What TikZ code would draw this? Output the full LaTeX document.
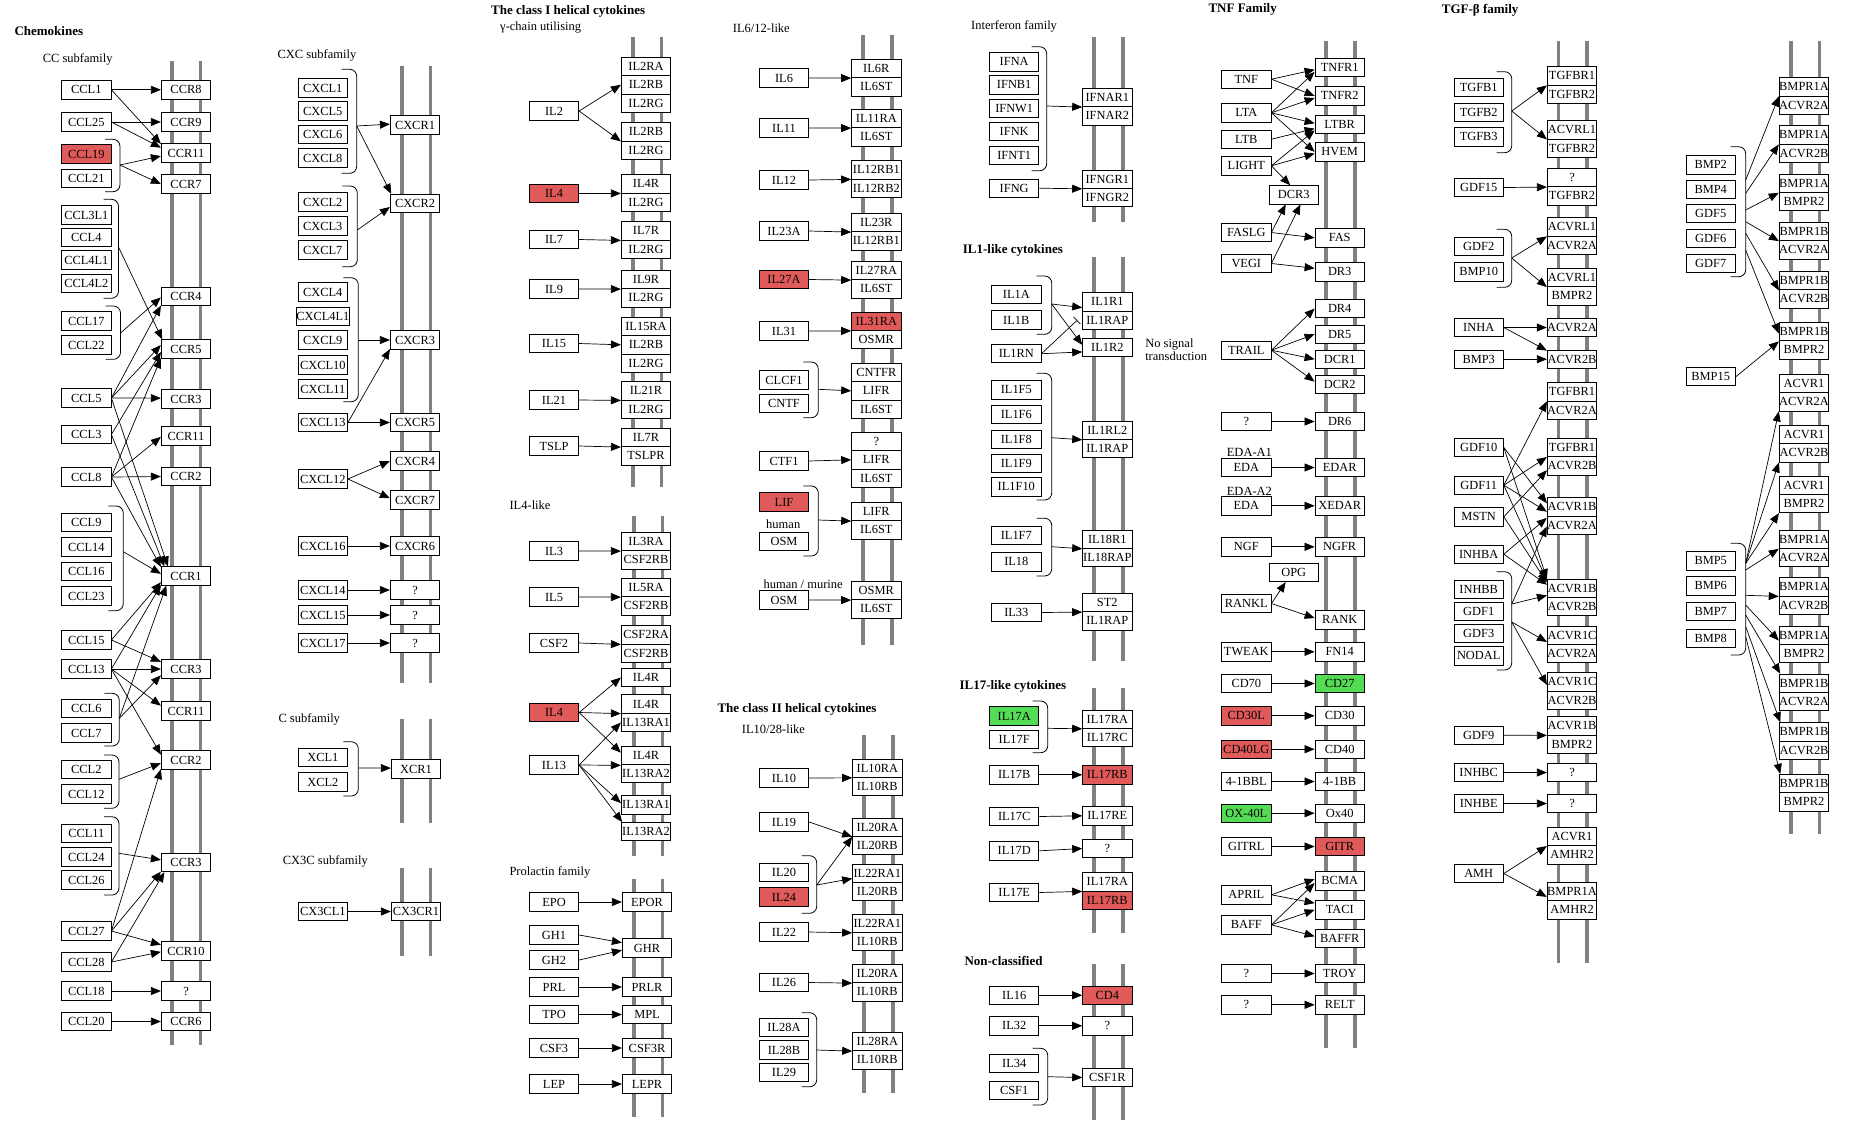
\documentclass[tikz,border=0pt]{standalone}
\usepackage{fontspec}
\setmainfont{Liberation Serif}
\usetikzlibrary{arrows.meta}
\definecolor{keggred}{RGB}{225,90,90}
\definecolor{kegggreen}{RGB}{85,220,85}
\definecolor{keggmem}{RGB}{128,128,128}

% membrane: two grey lines round a receptor column
\newcommand{\membrane}[3]{%
    \draw[memline] (#1-14.4,#2) -- (#1-14.4,#3);
    \draw[memline] (#1+14.4,#2) -- (#1+14.4,#3);
}
% bracket on the right of a group of ligands
\newcommand{\bkt}[3]{%
    \draw[bktline] (#1-15,#2) -- (#1,#2) -- (#1,#3) -- (#1-15,#3);
}

\begin{document}
\begin{tikzpicture}[
    x=1pt, y=-1pt,
    every node/.style={font=\fontsize{12.5}{13}\selectfont},
    box/.style={draw=black, line width=0.9pt, fill=white, minimum width=49.3pt,
        minimum height=18.3pt, inner sep=0pt, font=\fontsize{12.4}{12}\selectfont},
    hitred/.style={fill=keggred},
    hitgreen/.style={fill=kegggreen},
    memline/.style={draw=keggmem, line width=3.8pt},
    bktline/.style={line width=0.8pt, rounded corners=7pt},
    sig/.style={-{Triangle[length=10pt,width=8pt]}, line width=0.7pt},
    inh/.style={-{Bar[width=10pt]}, line width=0.7pt},
    grp/.style={anchor=west, font=\fontsize{13}{13}\selectfont\bfseries},
    sub/.style={anchor=west}
]
    % page is 1851 x 1120, y grows downwards
    \fill[white] (0,0) rectangle (1851,1120);
    \useasboundingbox (0,0) rectangle (1851,1120);

    % ---------------- Chemokines: CC subfamily
    \node[grp] (tChemo) at (11,31) {Chemokines};
    \node[sub] (tCC) at (39.3,59) {CC subfamily};
    \membrane{186}{61}{1045}
    \def\xlig{86.3}
    \def\xrec{186}
    \foreach \n/\y in {CCL1/89.8, CCL25/122, CCL21/178.5, CCL3L1/215, CCL4/237.5,
        CCL4L1/260, CCL4L2/283.5, CCL17/321, CCL22/345, CCL5/398, CCL3/434.5,
        CCL8/477, CCL9/522.5, CCL14/547, CCL16/571.5, CCL23/596, CCL15/640,
        CCL13/669, CCL6/708.5, CCL7/733, CCL2/769.5, CCL12/794, CCL11/833.5,
        CCL24/857, CCL26/880, CCL27/931, CCL28/962, CCL18/991, CCL20/1021.5}{
        \node[box] (\n) at (\xlig,\y) {\n};
    }
    \node[box,hitred] (CCL19) at (\xlig,154) {CCL19};
    \foreach \n/\y/\txt in {CCR8/89.8/CCR8, CCR9/122/CCR9, CCR11a/153/CCR11,
        CCR7/184/CCR7, CCR4/296.5/CCR4, CCR5/349/CCR5, CCR3a/399/CCR3,
        CCR11b/436/CCR11, CCR2a/476.5/CCR2, CCR1/576/CCR1, CCR3b/669/CCR3,
        CCR11c/711/CCR11, CCR2b/760/CCR2, CCR3c/862.5/CCR3, CCR10/951/CCR10,
        CCRx/991/?, CCR6/1021.5/CCR6}{
        \node[box] (\n) at (\xrec,\y) {\txt};
    }
    \bkt{120}{139.3}{191.7}
    \bkt{118.5}{199.3}{298.3}
    \bkt{120.5}{306}{359.3}
    \bkt{123.3}{506}{610.7}
    \bkt{119.3}{693.3}{746}
    \bkt{119}{755}{808.3}
    \bkt{119}{816.7}{895}
    \coordinate (bCCL19) at (120,165);
    \coordinate (bCCL3L1) at (118.5,247);
    \coordinate (bCCL17) at (120.5,333);
    \coordinate (bCCL9) at (123.3,551.7);
    \coordinate (bCCL6) at (119.3,718.3);
    \coordinate (bCCL2) at (119,779.3);
    \coordinate (bCCL11) at (119,853.3);
    \foreach \a/\b in {CCL1.east/CCR8.180, CCL1.east/CCR11a.160, CCL25.east/CCR9.180,
        CCL25.east/CCR11a.168, bCCL19/CCR11a.187, bCCL19/CCR7.180,
        bCCL3L1/CCR5.158, bCCL17/CCR4.182, CCL5.east/CCR4.200, CCL5.east/CCR5.171,
        CCL3.east/CCR5.187, CCL8.east/CCR5.200, CCL5.east/CCR3a.178,
        CCL5.east/CCR1.152, CCL3.east/CCR1.156, CCL8.east/CCR1.160,
        CCL8.east/CCR11b.182, CCL8.east/CCR2a.180, bCCL9/CCR1.175,
        CCL15.east/CCR1.194, CCL13.east/CCR1.200, bCCL6/CCR1.206,
        CCL15.east/CCR3b.164, CCL13.east/CCR3b.180, bCCL6/CCR3b.194,
        CCL13.east/CCR11c.168, CCL13.east/CCR2b.168, bCCL2/CCR2b.187,
        CCL27.east/CCR2b.200, bCCL11/CCR3c.174, CCL27.east/CCR3c.200,
        CCL28.east/CCR3c.204, CCL27.east/CCR10.166, CCL28.east/CCR10.182,
        CCL18.east/CCRx.180, CCL20.east/CCR6.180}{
        \draw[sig] (\a) -- (\b);
    }

    % ---------------- CXC, C and CX3C subfamilies
    \node[sub] (tCXC) at (274,55) {CXC subfamily};
    \membrane{416}{65.7}{683}
    \def\xlig{322.8}
    \def\xrec{415}
    \foreach \n/\y in {CXCL1/88, CXCL5/111, CXCL6/134.5, CXCL8/158, CXCL2/202,
        CXCL3/226, CXCL7/250, CXCL4/292, CXCL4L1/316.5, CXCL9/340, CXCL10/365,
        CXCL11/389, CXCL13/422.5, CXCL12/479, CXCL16/546, CXCL14/590,
        CXCL15/615, CXCL17/643}{
        \node[box] (\n) at (\xlig,\y) {\n};
    }
    \foreach \n/\y/\txt in {CXCR1/125/CXCR1, CXCR2/203.5/CXCR2, CXCR3/340/CXCR3,
        CXCR5/422.5/CXCR5, CXCR4/461/CXCR4, CXCR7/500/CXCR7, CXCR6/546/CXCR6,
        CXCRx/590/?, CXCRy/615/?, CXCRz/643/?}{
        \node[box] (\n) at (\xrec,\y) {\txt};
    }
    \bkt{356.7}{69.3}{173.3}
    \bkt{357.3}{186}{266.7}
    \bkt{358.3}{277.7}{401.7}
    \coordinate (bCXCL1) at (356.7,126);
    \coordinate (bCXCL2) at (357.3,230);
    \coordinate (bCXCL4) at (358.3,340);
    \foreach \a/\b in {bCXCL1/CXCR1.178, bCXCL1/CXCR2.158, bCXCL2/CXCR2.188,
        bCXCL4/CXCR3.180, CXCL13.east/CXCR3.200, CXCL13.east/CXCR5.180,
        CXCL12.east/CXCR4.180, CXCL12.east/CXCR7.176, CXCL16.east/CXCR6.180,
        CXCL14.east/CXCRx.180, CXCL15.east/CXCRy.180, CXCL17.east/CXCRz.180}{
        \draw[sig] (\a) -- (\b);
    }

    \node[sub] (tC) at (275,719) {C subfamily};
    \membrane{416}{719}{823}
    \node[box] (XCL1) at (\xlig,757.5) {XCL1};
    \node[box] (XCL2) at (\xlig,782) {XCL2};
    \node[box] (XCR1) at (416,769) {XCR1};
    \bkt{358.3}{741.7}{796}
    \coordinate (bXCL) at (358.3,768);
    \draw[sig] (bXCL) -- (XCR1.178);

    \node[sub] (tCX3C) at (279.3,861) {CX3C subfamily};
    \membrane{416}{867.7}{956}
    \node[box] (CX3CL1) at (\xlig,911.5) {CX3CL1};
    \node[box] (CX3CR1) at (416,911.5) {CX3CR1};
    \draw[sig] (CX3CL1.east) -- (CX3CR1.180);

    % ---------------- The class I helical cytokines
    \node[grp] (tClassI) at (487.7,11.7) {The class I helical cytokines};
    \node[sub] (tGamma) at (496.7,27.3) {γ-chain utilising};
    \membrane{647}{37.3}{487.3}
    \def\xlig{554}
    \def\xrec{646}
    \foreach \n/\y in {IL2/111, IL7/239.5, IL9/289, IL15/343.5, IL21/400, TSLP/446}{
        \node[box] (\n) at (\xlig,\y) {\n};
    }
    \node[box,hitred] (IL4a) at (\xlig,193.5) {IL4};
    \foreach \n/\y/\txt in {IL2RAa/66.5/IL2RA, IL2RBa/84.8/IL2RB, IL2RGa/103.2/IL2RG,
        IL2RBb/131.8/IL2RB, IL2RGb/150.2/IL2RG, IL4Ra/183.8/IL4R, IL2RGc/202.2/IL2RG,
        IL7Ra/230.8/IL7R, IL2RGd/249.2/IL2RG, IL9R/279.5/IL9R, IL2RGe/297.8/IL2RG,
        IL15RA/326.5/IL15RA, IL2RBc/344.8/IL2RB, IL2RGf/363.2/IL2RG,
        IL21R/390.8/IL21R, IL2RGg/409.2/IL2RG, IL7Rb/437.5/IL7R, TSLPR/455.8/TSLPR}{
        \node[box] (\n) at (\xrec,\y) {\txt};
    }
    \foreach \a/\b in {IL2.east/IL2RBa.180, IL2.east/IL2RBb.south west,
        IL4a.east/IL4Ra.south west, IL7.east/IL7Ra.south west,
        IL9.east/IL9R.south west, IL15.east/IL2RBc.west,
        IL21.east/IL21R.south west, TSLP.east/IL7Rb.south west}{
        \draw[sig] (\a) -- (\b);
    }

    \node[sub] (tIL4like) at (506,505.7) {IL4-like};
    \membrane{648}{515.7}{855.7}
    \foreach \n/\y in {IL3/551, IL5/597, CSF2/643, IL13/765}{
        \node[box] (\n) at (\xlig,\y) {\n};
    }
    \node[box,hitred] (IL4b) at (\xlig,712.5) {IL4};
    \foreach \n/\y/\txt in {IL3RA/541.5/IL3RA, CSF2RBa/559.8/CSF2RB, IL5RA/587.5/IL5RA,
        CSF2RBb/605.8/CSF2RB, CSF2RA/634.8/CSF2RA, CSF2RBc/653.2/CSF2RB,
        IL4Rb/677.5/IL4R, IL4Rc/704/IL4R, IL13RA1a/722.5/IL13RA1, IL4Rd/755.7/IL4R,
        IL13RA2a/773.7/IL13RA2, IL13RA1b/804.8/IL13RA1, IL13RA2b/831.7/IL13RA2}{
        \node[box] (\n) at (\xrec,\y) {\txt};
    }
    \foreach \a/\b in {IL3.east/IL3RA.south west, IL5.east/IL5RA.south west,
        CSF2.east/CSF2RA.south west, IL4b.east/IL4Rb.180, IL4b.east/IL4Rc.south west,
        IL4b.east/IL4Rd.173, IL13.east/IL13RA1a.180, IL13.east/IL4Rd.south west,
        IL13.east/IL13RA1b.176, IL13.east/IL13RA2b.158}{
        \draw[sig] (\a) -- (\b);
    }

    \node[sub] (tPRL) at (506,872.7) {Prolactin family};
    \membrane{648}{879.3}{1116.7}
    \foreach \n/\y in {EPO/902, GH1/935, GH2/960, PRL/987, TPO/1014.5, CSF3/1048, LEP/1084}{
        \node[box] (\n) at (\xlig,\y) {\n};
    }
    \foreach \n/\y in {EPOR/902, GHR/948, PRLR/987, MPL/1014.5, CSF3R/1048, LEPR/1084}{
        \node[box] (\n) at (647,\y) {\n};
    }
    \foreach \a/\b in {EPO.east/EPOR.180, GH1.east/GHR.168, GH2.east/GHR.185,
        PRL.east/PRLR.180, TPO.east/MPL.180, CSF3.east/CSF3R.180, LEP.east/LEPR.180}{
        \draw[sig] (\a) -- (\b);
    }

    % ---------------- IL6/12-like
    \node[sub] (tIL6like) at (729.3,28.3) {IL6/12-like};
    \membrane{877.2}{35}{645}
    \def\xlig{784}
    \def\xrec{876.3}
    \foreach \n/\y in {IL6/78, IL11/128, IL12/180, IL23A/231, IL31/331, CLCF1/380,
        CNTF/403.5, CTF1/461}{
        \node[box] (\n) at (\xlig,\y) {\n};
    }
    \node[box,hitred] (IL27A) at (\xlig,279.5) {IL27A};
    \node[box,hitred] (LIF) at (\xlig,502) {LIF};
    \node[box] (OSMa) at (\xlig,541.5) {OSM};
    \node[box] (OSMb) at (\xlig,600) {OSM};
    \node[sub] (tHuman) at (762.7,524) {human};
    \node[sub] (tMurine) at (760,584) {human / murine};
    \foreach \n/\y/\txt in {IL6R/68.5/IL6R, IL6STa/86.8/IL6ST, IL11RA/118.5/IL11RA,
        IL6STb/136.8/IL6ST, IL12RB1a/169.8/IL12RB1, IL12RB2/188.2/IL12RB2,
        IL23R/222.5/IL23R, IL12RB1b/240.8/IL12RB1, IL27RA/270.5/IL27RA,
        IL6STc/288.8/IL6ST, OSMRa/339.3/OSMR, CNTFR/372.5/CNTFR, LIFRa/390.8/LIFR,
        IL6STd/409.2/IL6ST, IL6Rx/441.5/?, LIFRb/459.8/LIFR, IL6STe/478.2/IL6ST,
        LIFRc/511.5/LIFR, IL6STf/529.8/IL6ST, OSMRb/590.5/OSMR, IL6STg/608.8/IL6ST}{
        \node[box] (\n) at (\xrec,\y) {\txt};
    }
    \node[box,hitred] (IL31RA) at (\xrec,321.3) {IL31RA};
    \bkt{818.3}{362}{417.7}
    \bkt{818.3}{486}{556}
    \coordinate (bCLCF1) at (818.3,389.3);
    \coordinate (bLIF) at (818.3,520);
    \foreach \a/\b in {IL6.east/IL6R.south west, IL11.east/IL11RA.south west,
        IL12.east/IL12RB1a.south west, IL23A.east/IL23R.south west,
        IL27A.east/IL27RA.south west, IL31.east/IL31RA.south west,
        bCLCF1/LIFRa.180, CTF1.east/LIFRb.180, bLIF/LIFRc.south west,
        OSMb.east/OSMRb.south west}{
        \draw[sig] (\a) -- (\b);
    }

    % ---------------- The class II helical cytokines
    \node[grp] (tClassII) at (714,709.3) {The class II helical cytokines};
    \node[sub] (tIL10like) at (738.3,729.3) {IL10/28-like};
    \membrane{878.3}{735}{1092.7}
    \def\xrec{877.3}
    \foreach \n/\y in {IL10/778, IL19/822, IL20/872.5, IL22/932, IL26/982.5,
        IL28A/1027.5, IL28B/1050, IL29/1072.5}{
        \node[box] (\n) at (\xlig,\y) {\n};
    }
    \node[box,hitred] (IL24) at (\xlig,897) {IL24};
    \foreach \n/\y/\txt in {IL10RA/768.2/IL10RA, IL10RBa/786.5/IL10RB,
        IL20RAa/827.2/IL20RA, IL20RBa/845.5/IL20RB, IL22RA1a/873.2/IL22RA1,
        IL20RBb/891.5/IL20RB, IL22RA1b/923.2/IL22RA1, IL10RBb/941.5/IL10RB,
        IL20RAb/973.5/IL20RA, IL10RBc/991.8/IL10RB, IL28RA/1041.5/IL28RA,
        IL10RBd/1059.8/IL10RB}{
        \node[box] (\n) at (\xrec,\y) {\txt};
    }
    \bkt{816.7}{855.7}{913.3}
    \bkt{816.7}{1012.7}{1086.7}
    \coordinate (bIL20) at (816.7,885);
    \coordinate (bIL28) at (816.7,1050);
    \foreach \a/\b in {IL10.east/IL10RA.south west, IL19.east/IL20RAa.south west,
        bIL20/IL20RAa.south west, bIL20/IL22RA1a.192, IL22.east/IL22RA1b.south west,
        IL26.east/IL20RAb.south west, bIL28/IL28RA.south west}{
        \draw[sig] (\a) -- (\b);
    }

    % ---------------- Interferon family
    \node[sub] (tIFN) at (967.7,26.7) {Interferon family};
    \membrane{1108.5}{36.7}{221.7}
    \def\xlig{1014.2}
    \def\xrec{1107.3}
    \foreach \n/\y in {IFNA/61.8, IFNB1/84.8, IFNW1/108.2, IFNK/131.5, IFNT1/155.2,
        IFNG/188.2}{
        \node[box] (\n) at (\xlig,\y) {\n};
    }
    \foreach \n/\y in {IFNAR1/97.5, IFNAR2/115.8, IFNGR1/179.2, IFNGR2/197.5}{
        \node[box] (\n) at (\xrec,\y) {\n};
    }
    \bkt{1046.7}{46.7}{170.7}
    \coordinate (bIFNA) at (1046.7,106);
    \draw[sig] (bIFNA) -- (IFNAR1.south west);
    \draw[sig] (IFNG.east) -- (IFNGR1.south west);

    % ---------------- IL1-like cytokines
    \node[grp] (tIL1) at (959.3,250.7) {IL1-like cytokines};
    \membrane{1108.5}{256.7}{660.7}
    \def\xlig{1016.3}
    \foreach \n/\y in {IL1A/294.3, IL1B/320, IL1RN/353.7, IL1F5/389.8, IL1F6/414.2,
        IL1F8/439.2, IL1F9/463.5, IL1F10/486.8, IL1F7/535.2, IL18/561.8, IL33/612.5}{
        \node[box] (\n) at (\xlig,\y) {\n};
    }
    \foreach \n/\y/\txt in {IL1R1/301.8/IL1R1, IL1RAPa/320.2/IL1RAP, IL1R2/347.5/IL1R2,
        IL1RL2/430.2/IL1RL2, IL1RAPb/448.5/IL1RAP, IL18R1/539.2/IL18R1,
        IL18RAP/557.5/IL18RAP, ST2/602.5/ST2, IL1RAPc/620.8/IL1RAP}{
        \node[box] (\n) at (\xrec,\y) {\txt};
    }
    \node[sub,align=left,font=\fontsize{12.5}{12.7}\selectfont] (tNoSig)
        at (1141.7,349.7) {No signal\\transduction};
    \bkt{1051.7}{276}{334.3}
    \bkt{1051.7}{373.3}{500}
    \bkt{1051.7}{518.3}{576}
    \coordinate (bIL1A) at (1051.7,304);
    \coordinate (bIL1F5) at (1051.7,437.7);
    \coordinate (bIL1F7) at (1051.7,546.7);
    \foreach \a/\b in {bIL1A/IL1R1.193, bIL1A/IL1R2.174, IL1RN.east/IL1R2.190,
        bIL1F5/IL1RL2.south west, bIL1F7/IL18R1.south west, IL33.east/ST2.south west}{
        \draw[sig] (\a) -- (\b);
    }
    \draw[inh] (IL1RN.east) -- ([xshift=-5pt]IL1RAPa.west);

    % ---------------- IL17-like cytokines
    \node[grp] (tIL17) at (956,686.7) {IL17-like cytokines};
    \membrane{1108.5}{688.3}{932.7}
    \def\xlig{1014.2}
    \foreach \n/\y in {IL17F/739.2, IL17B/774.8, IL17C/816.5, IL17D/850.8, IL17E/892.5}{
        \node[box] (\n) at (\xlig,\y) {\n};
    }
    \node[box,hitgreen] (IL17A) at (\xlig,716) {IL17A};
    \node[box] (IL17RAa) at (\xrec,719.2) {IL17RA};
    \node[box] (IL17RC) at (\xrec,737.5) {IL17RC};
    \node[box,hitred] (IL17RBa) at (\xrec,774.8) {IL17RB};
    \node[box] (IL17RE) at (\xrec,815.8) {IL17RE};
    \node[box] (IL17x) at (\xrec,848.5) {?};
    \node[box] (IL17RAb) at (\xrec,881.8) {IL17RA};
    \node[box,hitred] (IL17RBb) at (\xrec,900.2) {IL17RB};
    \bkt{1047.7}{701}{752.7}
    \coordinate (bIL17A) at (1047.7,728.3);
    \foreach \a/\b in {bIL17A/IL17RAa.south west, IL17B.east/IL17RBa.180,
        IL17C.east/IL17RE.180, IL17D.east/IL17x.180, IL17E.east/IL17RAb.south west}{
        \draw[sig] (\a) -- (\b);
    }

    % ---------------- Non-classified
    \node[grp] (tNonCl) at (961,960.7) {Non-classified};
    \membrane{1108.5}{964}{1120}
    \foreach \n/\y in {IL16/995.2, IL32/1025.8, IL34/1063.5, CSF1/1090.2}{
        \node[box] (\n) at (\xlig,\y) {\n};
    }
    \node[box,hitred] (CD4) at (\xrec,995.2) {CD4};
    \node[box] (NCx) at (\xrec,1025.8) {?};
    \node[box] (CSF1R) at (\xrec,1077.5) {CSF1R};
    \bkt{1047.7}{1048.3}{1105}
    \coordinate (bIL34) at (1047.7,1076.7);
    \draw[sig] (IL16.east) -- (CD4.180);
    \draw[sig] (IL32.east) -- (NCx.180);
    \draw[sig] (bIL34) -- (CSF1R.180);

    % ---------------- TNF family
    \node[grp] (tTNF) at (1205,9.3) {TNF Family};
    \membrane{1340.5}{40.7}{1048.3}
    \def\xlig{1246.3}
    \def\xrec{1339.7}
    \foreach \n/\y/\txt in {TNF/79.2/TNF, LTA/112.8/LTA, LTB/139.2/LTB, LIGHT/165.8/LIGHT,
        FASLG/232.5/FASLG, VEGI/263.5/VEGI, TRAIL/350.2/TRAIL, TNFx/421.5/?,
        EDAa/467.5/EDA, EDAb/505.8/EDA, NGF/546.8/NGF, RANKL/603.5/RANKL,
        TWEAK/651.8/TWEAK, CD70/683.5/CD70, L41BB/781.5/4-1BBL, GITRL/846.5/GITRL,
        APRIL/894.8/APRIL, BAFF/924.8/BAFF, TNFy/973.5/?, TNFz/1004.8/?}{
        \node[box] (\n) at (\xlig,\y) {\txt};
    }
    \node[box,hitred] (CD30L) at (\xlig,715.8) {CD30L};
    \node[box,hitred] (CD40LG) at (\xlig,749.2) {CD40LG};
    \node[box,hitgreen] (OX40L) at (\xlig,813.2) {OX-40L};
    \node[box] (DCR3) at (1293.7,194.8) {DCR3};
    \node[box] (OPG) at (1293.7,572.5) {OPG};
    \node[sub] (tEDAA1) at (1223.3,452.7) {EDA-A1};
    \node[sub] (tEDAA2) at (1223.3,491.7) {EDA-A2};
    \foreach \n/\y/\txt in {TNFR1/67.5/TNFR1, TNFR2/95.8/TNFR2, LTBR/124.2/LTBR,
        HVEM/151.8/HVEM, FAS/237.8/FAS, DR3/271.8/DR3, DR4/308.5/DR4, DR5/334.2/DR5,
        DCR1/359.2/DCR1, DCR2/384.2/DCR2, DR6/421.5/DR6, EDAR/467.5/EDAR,
        XEDAR/505.8/XEDAR, NGFR/546.8/NGFR, RANK/619.8/RANK, FN14/651.8/FN14,
        CD30/715.8/CD30, CD40/749.2/CD40, R41BB/781.5/4-1BB, Ox40/813.2/Ox40,
        BCMA/880.8/BCMA, TACI/909.8/TACI, BAFFR/938.5/BAFFR, TROY/973.5/TROY,
        RELT/1004.8/RELT}{
        \node[box] (\n) at (\xrec,\y) {\txt};
    }
    \node[box,hitgreen] (CD27) at (\xrec,683.5) {CD27};
    \node[box,hitred] (GITR) at (\xrec,846.5) {GITR};
    \foreach \a/\b in {TNF.east/TNFR1.185, TNF.east/TNFR2.180, LTA.east/TNFR1.190,
        LTA.east/TNFR2.185, LTA.east/LTBR.178, LTA.east/HVEM.180, LTB.east/LTBR.190,
        LIGHT.east/LTBR.194, LIGHT.east/HVEM.184, LIGHT.east/DCR3.110,
        FASLG.east/DCR3.230, FASLG.east/FAS.180, VEGI.east/DCR3.305, VEGI.east/DR3.172,
        TRAIL.east/DR4.180, TRAIL.east/DR5.180, TRAIL.east/DCR1.180, TRAIL.east/DCR2.174,
        TNFx.east/DR6.180, EDAa.east/EDAR.180, EDAb.east/XEDAR.180, NGF.east/NGFR.180,
        RANKL.east/OPG.230, RANKL.east/RANK.176, TWEAK.east/FN14.180,
        CD70.east/CD27.180, CD30L.east/CD30.180, CD40LG.east/CD40.180,
        L41BB.east/R41BB.180, OX40L.east/Ox40.180, GITRL.east/GITR.180,
        APRIL.east/BCMA.176, APRIL.east/TACI.165, BAFF.east/BCMA.185,
        BAFF.east/TACI.180, BAFF.east/BAFFR.175, TNFy.east/TROY.180, TNFz.east/RELT.180}{
        \draw[sig] (\a) -- (\b);
    }

    % ---------------- TGF-beta family
    \node[grp] (tTGF) at (1438.3,10) {TGF-β family};
    \membrane{1572.8}{40.7}{962.7}
    \def\xlig{1478.7}
    \def\xrec{1572}
    \foreach \n/\y in {TGFB1/87.2, TGFB2/112.5, TGFB3/136.8, GDF15/187.5, GDF2/246.5,
        BMP10/271.8, INHA/327.5, BMP3/359.2, GDF10/447.5, GDF11/485.2, MSTN/516.8,
        INHBA/554.2, INHBB/589.2, GDF1/611.5, GDF3/633.5, NODAL/655.8, GDF9/735.2,
        INHBC/772.5, INHBE/803.5, AMH/873.5}{
        \node[box] (\n) at (\xlig,\y) {\n};
    }
    \foreach \n/\y/\txt in {TGFBR1a/75.8/TGFBR1, TGFBR2a/94.2/TGFBR2,
        ACVRL1a/129.8/ACVRL1, TGFBR2b/148.2/TGFBR2, TGFx/177.5/?, TGFBR2c/195.8/TGFBR2,
        ACVRL1b/226.8/ACVRL1, ACVR2Aa/245.2/ACVR2A, ACVRL1c/277.5/ACVRL1,
        BMPR2a/295.8/BMPR2, ACVR2Ab/327.5/ACVR2A, ACVR2Ba/359.2/ACVR2B,
        TGFBR1b/391.8/TGFBR1, ACVR2Ac/410.2/ACVR2A, TGFBR1c/447.5/TGFBR1,
        ACVR2Bb/465.8/ACVR2B, ACVR1Ba/506.8/ACVR1B, ACVR2Ad/525.2/ACVR2A,
        ACVR1Bb/588.2/ACVR1B, ACVR2Bc/606.5/ACVR2B, ACVR1Ca/635.2/ACVR1C,
        ACVR2Ae/653.5/ACVR2A, ACVR1Cb/681.8/ACVR1C, ACVR2Bd/700.2/ACVR2B,
        ACVR1Bc/725.8/ACVR1B, BMPR2b/744.2/BMPR2, TGFy/772.5/?, TGFz/803.5/?,
        ACVR1a/836.5/ACVR1, AMHR2a/854.8/AMHR2, BMPR1Aa/891.5/BMPR1A,
        AMHR2b/909.8/AMHR2}{
        \node[box] (\n) at (\xrec,\y) {\txt};
    }
    \bkt{1511.7}{71.7}{152.7}
    \bkt{1511.7}{229.3}{287.3}
    \bkt{1511.7}{571.7}{670}
    \coordinate (bTGFB1) at (1511.7,111);
    \coordinate (bGDF2) at (1511.7,258);
    \coordinate (bINHBBa) at (1511.7,604);
    \coordinate (bINHBBb) at (1511.7,622);
    \foreach \a/\b in {bTGFB1/TGFBR1a.south west, bTGFB1/ACVRL1a.south west,
        GDF15.east/TGFx.south west, bGDF2/ACVRL1b.south west, bGDF2/ACVRL1c.south west,
        INHA.east/ACVR2Ab.180, INHA.east/ACVR2Ba.161, BMP3.east/ACVR2Ba.180,
        GDF11.east/TGFBR1b.south west, GDF11.east/TGFBR1c.south west,
        MSTN.east/ACVR2Bb.190, GDF10.east/ACVR1Ba.172, GDF11.east/ACVR1Ba.191,
        INHBA.east/ACVR2Ad.164, bINHBBa/ACVR2Ad.183, GDF10.east/ACVR1Bb.160,
        GDF11.east/ACVR1Bb.163, MSTN.east/ACVR1Bb.167, INHBA.east/ACVR1Bb.172,
        bINHBBa/ACVR1Bb.196, bINHBBb/ACVR1Ca.195, bINHBBb/ACVR1Cb.187,
        GDF9.east/ACVR1Bc.south west, INHBC.east/TGFy.180, INHBE.east/TGFz.180,
        AMH.east/ACVR1a.south west, AMH.east/BMPR1Aa.192}{
        \draw[sig] (\a) -- (\b);
    }

    % ---------------- BMP receptors
    \membrane{1805}{40.7}{834.3}
    \def\xlig{1710.7}
    \def\xrec{1804}
    \foreach \n/\y in {BMP2/164.8, BMP4/189.2, GDF5/213.2, GDF6/238.5, GDF7/263.2,
        BMP15/376.7, BMP5/560.8, BMP6/585.8, BMP7/611.5, BMP8/638.2}{
        \node[box] (\n) at (\xlig,\y) {\n};
    }
    \foreach \n/\y/\txt in {BA1/86.8/BMPR1A, BB1/105.2/ACVR2A, BA2/134.8/BMPR1A,
        BB2/153.2/ACVR2B, BA3/183.2/BMPR1A, BB3/201.5/BMPR2, BA4/231.5/BMPR1B,
        BB4/249.8/ACVR2A, BA5/280.8/BMPR1B, BB5/298.8/ACVR2B, BA6/331.8/BMPR1B,
        BB6/349.8/BMPR2, BC1/383.5/ACVR1, BD1/401.8/ACVR2A, BC2/434.5/ACVR1,
        BD2/452.8/ACVR2B, BC3/485.2/ACVR1, BD3/503.5/BMPR2, BC4/539.2/BMPR1A,
        BD4/557.5/ACVR2A, BC5/586.8/BMPR1A, BD5/605.2/ACVR2B, BC6/635.2/BMPR1A,
        BD6/653.5/BMPR2, BC7/683.2/BMPR1B, BD7/701.5/ACVR2A, BC8/731.8/BMPR1B,
        BD8/750.2/ACVR2B, BC9/783.5/BMPR1B, BD9/801.8/BMPR2}{
        \node[box] (\n) at (\xrec,\y) {\txt};
    }
    \bkt{1745.7}{146.7}{276.7}
    \bkt{1745.7}{543.3}{655}
    \foreach \c/\y in {a/180, b/193.3, c/210, d/221.7, e/233.3, f/250}{
        \coordinate (bBMP2\c) at (1745.7,\y);
    }
    \foreach \c/\y in {a/563.3, b/570, c/595.3, d/605, e/615, f/626.7, g/636.7}{
        \coordinate (bBMP5\c) at (1745.7,\y);
    }
    \foreach \a/\b in {bBMP2a/BA1.south west, bBMP2b/BA2.south west,
        bBMP2c/BA3.south west, bBMP2d/BA4.south west, bBMP2e/BA5.south west,
        bBMP2f/BA6.184, BMP15.east/BA6.south west, bBMP5a/BD1.south west,
        bBMP5a/BD2.south west, bBMP5a/BD3.south west, bBMP5b/BC4.south west,
        bBMP5c/BC5.south west, bBMP5d/BC6.192, bBMP5e/BC7.158, bBMP5f/BC8.158,
        bBMP5g/BC9.158}{
        \draw[sig] (\a) -- (\b);
    }

\end{tikzpicture}
\end{document}
